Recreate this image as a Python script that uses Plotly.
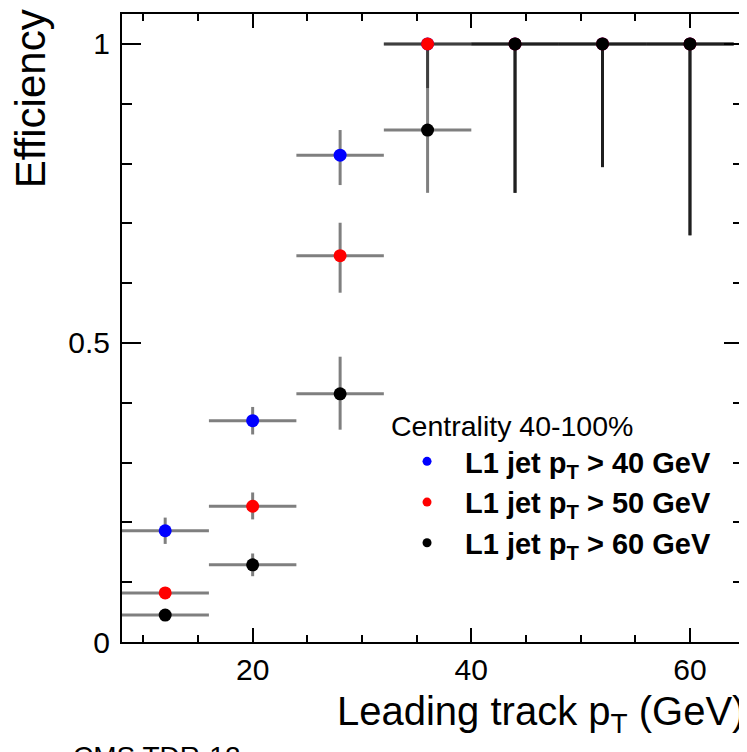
import plotly.graph_objects as go

# ---- data ----
pt_centers = [12, 20, 28, 36, 44, 52, 60]
pt_halfwidth = [4, 4, 4, 4, 4, 4, 4]

eff_40 = [0.186, 0.370, 0.814, 1.0, 1.0, 1.0, 1.0]
eff_40_up = [0.022, 0.023, 0.042, 0.0, 0.0, 0.0, 0.0]
eff_40_dn = [0.022, 0.023, 0.050, 0.074, 0.249, 0.206, 0.32]

eff_50 = [0.082, 0.227, 0.646, 1.0, 1.0, 1.0, 1.0]
eff_50_up = [0.010, 0.023, 0.055, 0.0, 0.0, 0.0, 0.0]
eff_50_dn = [0.010, 0.022, 0.062, 0.074, 0.249, 0.206, 0.32]

eff_60 = [0.045, 0.129, 0.415, 0.856, 1.0, 1.0, 1.0]
eff_60_up = [0.008, 0.019, 0.062, 0.070, 0.0, 0.0, 0.0]
eff_60_dn = [0.008, 0.019, 0.060, 0.105, 0.249, 0.206, 0.32]

series = [
    ("L1 jet p<sub>T</sub> > 40 GeV", eff_40, eff_40_up, eff_40_dn, "#0000ff"),
    ("L1 jet p<sub>T</sub> > 50 GeV", eff_50, eff_50_up, eff_50_dn, "#ff0000"),
    ("L1 jet p<sub>T</sub> > 60 GeV", eff_60, eff_60_up, eff_60_dn, "#000000"),
]

FONT = "Liberation Sans, Arial, Helvetica, sans-serif"
ERRC = "rgba(0,0,0,0.5)"

fig = go.Figure()
for name, y, up, dn, col in series:
    fig.add_trace(go.Scatter(
        x=pt_centers, y=y, mode="markers", showlegend=False,
        marker=dict(color=col, size=13, line=dict(width=0)),
        error_x=dict(type="data", array=pt_halfwidth, symmetric=True,
                     color=ERRC, thickness=3, width=0),
        error_y=dict(type="data", array=up, arrayminus=dn, symmetric=False,
                     color=ERRC, thickness=3, width=0),
    ))
# legend entries
for name, y, up, dn, col in series:
    fig.add_trace(go.Scatter(
        x=[None], y=[None], mode="markers", name="<b>" + name + "</b>",
        marker=dict(color=col, size=9),
    ))

axis_common = dict(
    showline=True, linecolor="#000", linewidth=2, mirror="ticks",
    ticks="inside", tickcolor="#000", tickwidth=2,
    showgrid=False, zeroline=False,
    tickfont=dict(family=FONT, size=30, color="#000"),
)

fig.update_xaxes(range=[8.05, 64.85], tickvals=[20, 40, 60], ticklen=14,
                 minor=dict(dtick=5, tick0=0, ticklen=7, ticks="inside",
                            tickcolor="#000", tickwidth=2, showgrid=False),
                 **axis_common)
fig.update_yaxes(range=[0, 1.05], tickvals=[0, 0.5, 1], ticktext=["0", "0.5", "1"],
                 ticklen=19, ticklabelstandoff=4,
                 minor=dict(dtick=0.1, tick0=0, ticklen=10, ticks="inside",
                            tickcolor="#000", tickwidth=2, showgrid=False),
                 **axis_common)

# page has an 8px body margin: figure sized/offset to compensate
fig.update_layout(
    width=739, height=744,
    margin=dict(l=114, r=2, t=6, b=110),
    paper_bgcolor="white", plot_bgcolor="white",
    font=dict(family=FONT, color="#000"),
    legend=dict(
        x=0.43, y=0.387, xanchor="left", yanchor="top",
        bgcolor="rgba(0,0,0,0)", borderwidth=0,
        font=dict(family=FONT, size=29, color="#000"),
        title=dict(text="Centrality 40-100%", font=dict(family=FONT, size=28.5, color="#000")),
        itemwidth=66, tracegroupgap=0,
    ),
    annotations=[
        dict(text="Efficiency", xref="paper", yref="paper", x=-0.148, y=1.01,
             xanchor="center", yanchor="top", textangle=-90, showarrow=False,
             font=dict(family=FONT, size=42, color="#000")),
        dict(text="Leading track p<sub>T</sub> (GeV)", xref="paper", yref="paper",
             x=1.0, y=-0.115, xanchor="right", yanchor="middle", showarrow=False,
             xshift=4, font=dict(family=FONT, size=40, color="#000")),
        dict(text="CMS TDR-12", xref="paper", yref="paper",
             x=-0.082, y=-0.154, xanchor="left", yanchor="top", showarrow=False,
             font=dict(family=FONT, size=28, color="#000")),
    ],
)

fig.write_html("out.html")
